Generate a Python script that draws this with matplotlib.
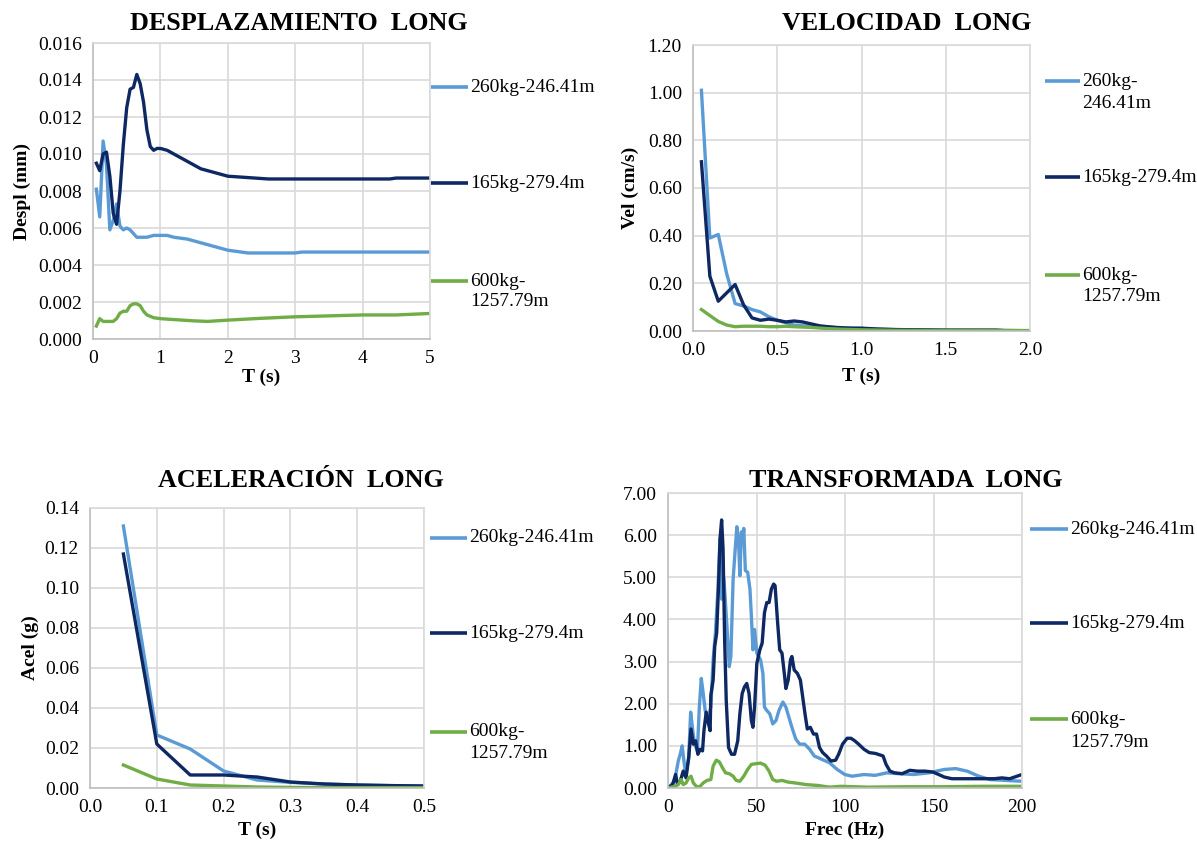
import matplotlib
matplotlib.use("Agg")
import matplotlib.pyplot as plt
from matplotlib.lines import Line2D
from matplotlib.ticker import FormatStrFormatter

# ---------------------------------------------------------------------------
# Data
# ---------------------------------------------------------------------------
LABELS = ["260kg-246.41m", "165kg-279.4m", "600kg-1257.79m"]
COLORS = ["#5B9BD5", "#0D2862", "#70AD47"]

# Desplazamiento (mm) vs T (s)
despl_t_a = [0.05, 0.10, 0.15, 0.20, 0.25, 0.30, 0.35, 0.40, 0.45, 0.50, 0.55, 0.60,
             0.65, 0.70, 0.80, 0.90, 1.00, 1.10, 1.20, 1.40, 1.60, 1.80, 2.00, 2.20,
             2.30, 2.50, 3.00, 3.10, 4.00, 5.00]
despl_a = [0.0081, 0.0066, 0.0107, 0.0094, 0.0059, 0.0064, 0.0073, 0.0061, 0.0059, 0.0060,
           0.0059, 0.0057, 0.0055, 0.0055, 0.0055, 0.0056, 0.0056, 0.0056, 0.0055, 0.0054,
           0.0052, 0.0050, 0.0048, 0.0047, 0.00465, 0.00465, 0.00465, 0.0047, 0.0047, 0.0047]
despl_t_b = [0.05, 0.10, 0.15, 0.20, 0.25, 0.30, 0.35, 0.40, 0.45, 0.50, 0.55, 0.60,
             0.65, 0.70, 0.75, 0.80, 0.85, 0.90, 0.95, 1.00, 1.10, 1.20, 1.30, 1.40,
             1.50, 1.60, 1.70, 1.80, 1.90, 2.00, 2.20, 2.40, 2.60, 3.00, 4.00, 4.40,
             4.50, 5.00]
despl_b = [0.0095, 0.0091, 0.0100, 0.0101, 0.0088, 0.0068, 0.0062, 0.0080, 0.0105, 0.0125,
           0.0135, 0.0136, 0.0143, 0.0138, 0.0128, 0.0113, 0.0104, 0.0102, 0.0103, 0.0103,
           0.0102, 0.0100, 0.0098, 0.0096, 0.0094, 0.0092, 0.0091, 0.0090, 0.0089, 0.0088,
           0.00875, 0.0087, 0.00865, 0.00865, 0.00865, 0.00865, 0.0087, 0.0087]
despl_t_c = [0.05, 0.10, 0.15, 0.20, 0.30, 0.35, 0.40, 0.45, 0.50, 0.55, 0.60, 0.65,
             0.70, 0.75, 0.80, 0.90, 1.00, 1.20, 1.50, 1.70, 2.00, 2.50, 3.00, 3.50,
             4.00, 4.50, 5.00]
despl_c = [0.0007, 0.0011, 0.00095, 0.00095, 0.00095, 0.0011, 0.0014, 0.0015, 0.0015, 0.0018,
           0.0019, 0.0019, 0.0018, 0.0015, 0.0013, 0.00115, 0.0011, 0.00105, 0.00098, 0.00095,
           0.00102, 0.00112, 0.0012, 0.00125, 0.0013, 0.0013, 0.00138]

# Velocidad (cm/s) vs T (s)
vel_t_a = [0.05, 0.10, 0.15, 0.20, 0.25, 0.30, 0.35, 0.40, 0.45, 0.50, 0.55, 0.60,
           0.65, 0.70, 0.75, 0.80, 0.85, 0.90, 1.00, 1.10, 1.20, 1.30, 1.50, 2.00]
vel_a = [1.01, 0.39, 0.405, 0.24, 0.115, 0.105, 0.09, 0.08, 0.06, 0.045, 0.035, 0.025,
         0.022, 0.020, 0.018, 0.016, 0.014, 0.012, 0.010, 0.008, 0.006, 0.004, 0.002, 0.001]
vel_t_b = [0.05, 0.10, 0.15, 0.20, 0.25, 0.30, 0.35, 0.40, 0.45, 0.50, 0.55, 0.60,
           0.65, 0.70, 0.75, 0.80, 0.85, 0.90, 0.95, 1.00, 1.10, 1.20, 1.50, 1.80,
           1.85, 2.00]
vel_b = [0.71, 0.23, 0.125, 0.16, 0.195, 0.11, 0.055, 0.045, 0.05, 0.045, 0.038, 0.042,
         0.038, 0.030, 0.022, 0.018, 0.015, 0.013, 0.012, 0.012, 0.008, 0.006, 0.004,
         0.004, 0.002, 0.001]
vel_t_c = [0.05, 0.10, 0.15, 0.20, 0.25, 0.30, 0.35, 0.40, 0.45, 0.50, 0.55, 0.60,
           0.70, 0.80, 0.90, 1.00, 1.20, 1.50, 2.00]
vel_c = [0.09, 0.065, 0.04, 0.025, 0.018, 0.02, 0.02, 0.02, 0.018, 0.018, 0.02, 0.018,
         0.015, 0.010, 0.007, 0.005, 0.003, 0.002, 0.002]

# Aceleracion (g) vs T (s)
acel_t = [0.05, 0.10, 0.15, 0.20, 0.25, 0.30, 0.35, 0.40, 0.45, 0.50]
acel_a = [0.131, 0.0265, 0.0195, 0.0085, 0.004, 0.0028, 0.002, 0.0015, 0.0012, 0.001]
acel_b = [0.117, 0.022, 0.0065, 0.0065, 0.0055, 0.003, 0.002, 0.0015, 0.0012, 0.001]
acel_c = [0.0115, 0.0045, 0.0015, 0.001, 0.0005, 0.0003, 0.0002, 0.0002, 0.0002, 0.0002]

# Transformada vs Frec (Hz)
fft_f_a = [0, 3.7, 5.8, 6.9, 8, 9, 10, 11.7, 12.8, 14, 15, 16.6, 17.7, 18.8, 19.9, 21,
           22.5, 24.2, 25.5, 26.8, 28.1, 29.4, 30.3, 31.6, 33.3, 34.6, 35.5, 36.8, 38,
           38.9, 39.8, 40.6, 41.5, 42.4, 42.8, 43.7, 45, 46.3, 47.1, 48, 48.9, 50.2,
           52.3, 53.6, 54.5, 55.8, 57.5, 59.2, 61, 62.7, 64.9, 66.6, 68.3, 70, 72.2,
           74.4, 77.2, 80, 82.6, 86.9, 91.2, 95.6, 99.9, 104, 110.7, 117, 123.7, 130,
           138.8, 147.5, 156, 162.6, 169, 175.6, 182, 190.7, 200]
fft_a = [0, 0.16, 0.64, 0.8, 1.0, 0.64, 0.32, 0.72, 1.8, 1.36, 1.04, 0.88, 1.92, 2.6,
         2.24, 1.84, 1.6, 1.92, 3.04, 3.68, 4.64, 5.92, 4.48, 4.96, 3.84, 2.88, 3.12,
         4.96, 5.68, 6.2, 5.92, 5.04, 6.08, 5.92, 6.16, 5.16, 5.12, 4.72, 4.08, 3.28,
         3.76, 3.2, 3.04, 2.72, 1.92, 1.84, 1.76, 1.52, 1.6, 1.84, 2.04, 1.92, 1.68,
         1.44, 1.16, 1.04, 1.04, 0.92, 0.76, 0.68, 0.6, 0.44, 0.32, 0.28, 0.32, 0.30,
         0.36, 0.34, 0.32, 0.36, 0.44, 0.46, 0.4, 0.28, 0.2, 0.18, 0.16]
fft_f_b = [0, 2.6, 4.3, 5.4, 6.9, 8.6, 10.2, 11.7, 13, 14.3, 15.6, 16.9, 18.2, 19.5,
           20.3, 21.6, 22.9, 23.8, 24.2, 25.5, 26.4, 27.5, 28.5, 29.4, 30.3, 31.1, 32,
           32.9, 34.2, 35.9, 37.6, 39.4, 40.6, 41.9, 43.2, 44.5, 45.8, 47.1, 48, 48.9,
           50.2, 51.9, 53.2, 54.5, 55.8, 57.1, 58.4, 59.7, 60.5, 61.8, 63.1, 64.4, 65.7,
           66.6, 67.9, 69.2, 70, 71.3, 73.1, 74.8, 76.1, 77.4, 78.7, 80.4, 82.2, 83.9,
           85.6, 87.4, 89.5, 92.1, 94.7, 96.4, 98.6, 101.2, 103.4, 105.5, 107.7, 110.7,
           113.7, 117.2, 121.5, 123.2, 125.4, 128, 132.3, 136.6, 141, 145.3, 149.6,
           152.9, 156.1, 160.4, 166.9, 175.6, 184.3, 188.6, 193, 197.2, 200]
fft_b = [0, 0.08, 0.32, 0.08, 0.16, 0.4, 0.24, 0.72, 1.4, 1.04, 1.12, 0.8, 0.92, 0.88,
         1.36, 1.8, 1.52, 1.36, 2.2, 2.56, 3.36, 3.68, 4.72, 5.92, 6.36, 5.68, 3.52,
         2.08, 0.96, 0.8, 0.8, 1.12, 1.76, 2.24, 2.4, 2.48, 2.24, 1.6, 1.44, 1.92, 2.96,
         3.28, 3.44, 4.16, 4.4, 4.4, 4.72, 4.84, 4.8, 4.0, 3.28, 3.2, 2.72, 2.36, 2.56,
         3.04, 3.12, 2.8, 2.72, 2.56, 2.16, 1.76, 1.4, 1.44, 1.28, 1.28, 0.96, 0.84,
         0.76, 0.64, 0.66, 0.8, 1.04, 1.18, 1.18, 1.12, 1.04, 0.92, 0.84, 0.82, 0.76,
         0.56, 0.4, 0.36, 0.34, 0.42, 0.4, 0.4, 0.38, 0.32, 0.26, 0.22, 0.22, 0.22,
         0.22, 0.24, 0.22, 0.28, 0.32]
fft_f_c = [0, 3.7, 5.8, 7.4, 8.6, 10.2, 11.7, 13, 14.3, 16, 17.7, 19.9, 22, 24.2, 25.5,
           27.3, 29, 30.8, 32.5, 34.6, 36.8, 38.5, 40.6, 42.8, 45, 47.1, 50.2, 52.3,
           54.9, 57.1, 59.2, 61.4, 64.4, 67.9, 71.8, 78.3, 84.8, 91.2, 97.7, 112.9,
           134.5, 156.1, 177.7, 200]
fft_c = [0, 0.04, 0.08, 0.2, 0.08, 0.12, 0.24, 0.28, 0.12, 0.04, 0.02, 0.12, 0.18, 0.2,
         0.52, 0.66, 0.62, 0.48, 0.36, 0.34, 0.28, 0.18, 0.16, 0.28, 0.44, 0.56, 0.58,
         0.59, 0.54, 0.4, 0.2, 0.16, 0.18, 0.14, 0.12, 0.08, 0.06, 0.02, 0.04, 0.02,
         0.03, 0.03, 0.04, 0.04]

# ---------------------------------------------------------------------------
# Figure setup (pixel helpers for an Excel-like layout)
# ---------------------------------------------------------------------------
W, H = 1197, 847
plt.rcParams["font.family"] = ["Liberation Serif", "DejaVu Serif"]
FS = 14
LW = 2.4

fig = plt.figure(figsize=(W / 100, H / 100), dpi=100)


def px_axes(x0, y0, x1, y1):
    return fig.add_axes([x0 / W, 1 - y1 / H, (x1 - x0) / W, (y1 - y0) / H])


def legend(x0, x1, items):
    for (ys, label), color in zip(items, COLORS):
        fig.add_artist(Line2D([x0 / W, x1 / W], [1 - ys[0] / H] * 2,
                              color=color, lw=LW + 0.2, solid_capstyle="butt"))
        for y, line in zip(ys, label):
            fig.text((x1 + 2) / W, 1 - y / H, line, fontsize=FS,
                     va="center", ha="left")


def style(ax, xlim, ylim, xticks, yticks, xfmt, yfmt):
    ax.set_xlim(*xlim)
    ax.set_ylim(*ylim)
    ax.set_xticks(xticks)
    ax.set_yticks(yticks)
    ax.xaxis.set_major_formatter(FormatStrFormatter(xfmt))
    ax.yaxis.set_major_formatter(FormatStrFormatter(yfmt))
    ax.grid(True, color="#D9D9D9", lw=1.2)
    ax.set_axisbelow(True)
    ax.tick_params(length=0, labelsize=FS, pad=8)
    for side in ["top", "right"]:
        ax.spines[side].set_color("#D9D9D9")
        ax.spines[side].set_linewidth(1.2)
    for side in ["left", "bottom"]:
        ax.spines[side].set_color("#BFBFBF")
        ax.spines[side].set_linewidth(1.2)


def title(xc, y, text):
    fig.text(xc / W, 1 - y / H, text, fontsize=18.8, fontweight="bold",
             ha="center", va="center")


# ---------------------------------------------------------------------------
# 1. Desplazamiento
# ---------------------------------------------------------------------------
ax1 = px_axes(93, 43, 430, 339)
ax1.plot(despl_t_a, despl_a, color=COLORS[0], lw=LW)
ax1.plot(despl_t_b, despl_b, color=COLORS[1], lw=LW)
ax1.plot(despl_t_c, despl_c, color=COLORS[2], lw=LW)
style(ax1, (0, 5), (0, 0.016), range(0, 6), [i * 0.002 for i in range(9)], "%g", "%.3f")
ax1.set_xticklabels([str(i) for i in range(6)])
ax1.set_xlabel("T (s)", fontsize=FS, fontweight="bold", labelpad=1)
ax1.set_ylabel("Despl (mm)", fontsize=FS, fontweight="bold", labelpad=5)
title(299, 23, "DESPLAZAMIENTO  LONG")
legend(431, 468, [((87,), ["260kg-246.41m"]), ((183,), ["165kg-279.4m"]),
                  ((281, 302), ["600kg-", "1257.79m"])])

# ---------------------------------------------------------------------------
# 2. Velocidad
# ---------------------------------------------------------------------------
ax2 = px_axes(693, 45, 1030, 331)
ax2.plot(vel_t_a, vel_a, color=COLORS[0], lw=LW)
ax2.plot(vel_t_b, vel_b, color=COLORS[1], lw=LW)
ax2.plot(vel_t_c, vel_c, color=COLORS[2], lw=LW)
style(ax2, (0, 2), (0, 1.2), [0, 0.5, 1.0, 1.5, 2.0], [i * 0.2 for i in range(7)], "%.1f", "%.2f")
ax2.set_xlabel("T (s)", fontsize=FS, fontweight="bold", labelpad=6)
ax2.set_ylabel("Vel (cm/s)", fontsize=FS, fontweight="bold", labelpad=6)
title(907, 23, "VELOCIDAD  LONG")
legend(1045, 1080, [((81, 104), ["260kg-", "246.41m"]), ((177,), ["165kg-279.4m"]),
                    ((275, 296), ["600kg-", "1257.79m"])])

# ---------------------------------------------------------------------------
# 3. Aceleracion
# ---------------------------------------------------------------------------
ax3 = px_axes(90, 508, 424, 788)
ax3.plot(acel_t, acel_a, color=COLORS[0], lw=LW)
ax3.plot(acel_t, acel_b, color=COLORS[1], lw=LW)
ax3.plot(acel_t, acel_c, color=COLORS[2], lw=LW)
style(ax3, (0, 0.5), (0, 0.14), [0, 0.1, 0.2, 0.3, 0.4, 0.5], [i * 0.02 for i in range(8)], "%.1f", "%.2f")
ax3.set_xlabel("T (s)", fontsize=FS, fontweight="bold", labelpad=4)
ax3.set_ylabel("Acel (g)", fontsize=FS, fontweight="bold", labelpad=4)
title(301, 480, "ACELERACIÓN  LONG")
legend(430, 467, [((538,), ["260kg-246.41m"]), ((633,), ["165kg-279.4m"]),
                  ((732, 754), ["600kg-", "1257.79m"])])

# ---------------------------------------------------------------------------
# 4. Transformada
# ---------------------------------------------------------------------------
ax4 = px_axes(668, 493, 1022, 788)
ax4.plot(fft_f_a, fft_a, color=COLORS[0], lw=LW)
ax4.plot(fft_f_b, fft_b, color=COLORS[1], lw=LW)
ax4.plot(fft_f_c, fft_c, color=COLORS[2], lw=LW)
style(ax4, (0, 200), (0, 7), [0, 50, 100, 150, 200], range(8), "%d", "%.2f")
ax4.set_xlabel("Frec (Hz)", fontsize=FS, fontweight="bold", labelpad=4)
title(906, 480, "TRANSFORMADA  LONG")
legend(1030, 1068, [((529,), ["260kg-246.41m"]), ((623,), ["165kg-279.4m"]),
                    ((719, 742), ["600kg-", "1257.79m"])])

fig.savefig("out.png", dpi=100)
